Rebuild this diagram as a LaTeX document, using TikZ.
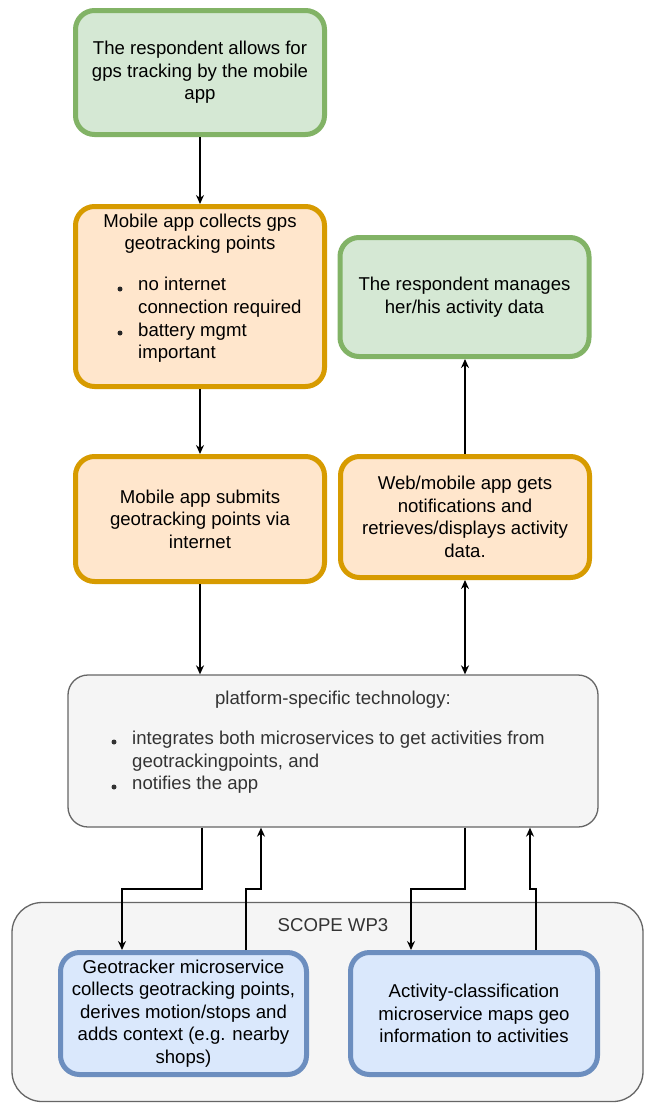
\documentclass[tikz,border=0pt]{standalone}
\usepackage{fontspec}
\setmainfont{Liberation Sans}
\usetikzlibrary{arrows.meta}

\definecolor{gfill}{HTML}{D5E8D4}
\definecolor{gline}{HTML}{82B366}
\definecolor{ofill}{HTML}{FFE6CC}
\definecolor{oline}{HTML}{D79B00}
\definecolor{bfill}{HTML}{DAE8FC}
\definecolor{bline}{HTML}{6C8EBF}
\definecolor{pfill}{HTML}{F5F5F5}
\definecolor{pline}{HTML}{666666}
\definecolor{ptext}{HTML}{333333}

\begin{document}
\begin{tikzpicture}[x=1pt,y=-1pt,
  lbl/.style={font=\fontsize{18.6}{22.6}\selectfont, text=black, inner sep=0pt, align=center},
  lbllist/.style={lbl, align=left, anchor=west},
  dot/.style={circle, fill=#1, inner sep=0pt, minimum size=5pt},
  card/.style={rectangle, rounded corners=19pt, line width=5pt, minimum width=249pt, inner sep=0pt, lbl},
  greencard/.style={card, draw=gline, fill=gfill},
  orangecard/.style={card, draw=oline, fill=ofill},
  bluecard/.style={card, draw=bline, fill=bfill},
  greybox/.style={rectangle, draw=pline, fill=pfill, line width=1.3pt, inner sep=0pt},
  arr/.style={draw=black, line width=1.4pt, -{Stealth[length=9pt,width=8pt]}},
  arrboth/.style={draw=black, line width=1.4pt, {Stealth[length=9pt,width=8pt]}-{Stealth[length=9pt,width=8pt]}}
]
% canvas
\path[use as bounding box, fill=white] (0,0) rectangle (646,1104);

% outer container for the microservices
\node[greybox, rounded corners=30pt, minimum width=631pt, minimum height=199pt] (scope) at (327.5,1002) {};
\node[lbl, text=ptext] (scopelbl) at (333,925) {SCOPE WP3};

% user-facing steps
\node[greencard, minimum height=124pt] (b1) at (200,72.5)
  {The respondent allows for\\gps tracking by the mobile\\app};

\node[orangecard, minimum height=180pt] (b2) at (200,296.5) {};
\node[lbl] (b2title) at (200,233.5) {Mobile app collects gps\\geotracking points};
\node[lbllist] (b2list) at (138,320) {no internet\\connection required\\battery mgmt\\important};
\node[dot=black!85] (b2d1) at (120,289) {};
\node[dot=black!85] (b2d2) at (120,333) {};

\node[orangecard, minimum height=125pt] (b3) at (200,519)
  {Mobile app submits\\geotracking points via\\internet};

\node[greencard, minimum height=119pt] (b4) at (464.5,297)
  {The respondent manages\\her/his activity data};

\node[orangecard, minimum height=121pt] (b5) at (465,517)
  {Web/mobile app gets\\notifications and\\retrieves/displays activity\\data.};

% platform layer
\node[greybox, rounded corners=20pt, minimum width=530pt, minimum height=152pt] (plat) at (333,751) {};
\node[lbl, text=ptext] (plattitle) at (333,700) {platform-specific technology:};
\node[lbllist, text=ptext] (platlist) at (132,762.5)
  {integrates both microservices to get activities from\\geotrackingpoints, and\\notifies the app};
\node[dot=ptext] (pd1) at (114,742) {};
\node[dot=ptext] (pd2) at (114,787) {};

% microservices
\node[bluecard, minimum width=246pt, minimum height=122pt] (geo) at (183.5,1013.5)
  {Geotracker microservice\\collects geotracking points,\\derives motion/stops and\\adds context (e.g. nearby\\shops)};
\node[bluecard, minimum width=247pt, minimum height=122pt] (act) at (474,1013.5)
  {Activity-classification\\microservice maps geo\\information to activities};

% connectors
\draw[arr] (b1.south) -- (b2.north);
\draw[arr] (b2.south) -- (b3.north);
\draw[arr] (b3.south) -- (b3.south |- plat.north);
\draw[arrboth] (b5.south) -- (b5.south |- plat.north);
\draw[arr] (b5.north) -- (b5.north |- b4.south);

\draw[arr] (202,0 |- plat.south) -- (202,889) -| (122,0 |- geo.north);
\draw[arr] (246,0 |- geo.north) -- (246,889) -| (261,0 |- plat.south);
\draw[arr] (465,0 |- plat.south) -- (465,889) -| (411,0 |- act.north);
\draw[arr] (536,0 |- act.north) -- (536,889) -| (530,0 |- plat.south);
\end{tikzpicture}
\end{document}
